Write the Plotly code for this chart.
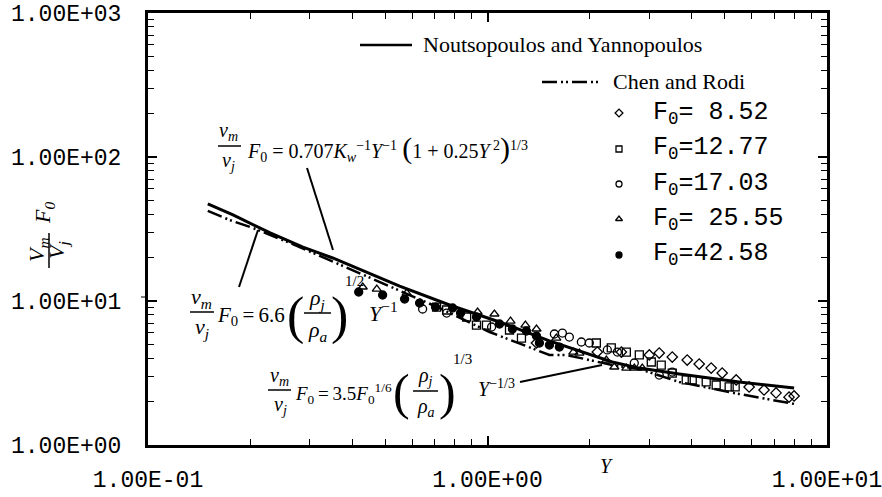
import plotly.graph_objects as go

# ---------------- data ----------------
ny_x = [0.150, 0.178, 0.229, 0.286, 0.350, 0.551, 0.773, 1.085, 1.522, 2.331, 2.800, 3.671, 5.51, 8.0]
ny_y = [47.2, 39.6, 29.7, 23.7, 19.9, 12.7, 9.38, 7.15, 5.28, 3.77, 3.42, 3.11, 2.74, 2.49]

cr_x = [0.150, 0.174, 0.204, 0.262, 0.336, 0.481, 0.722, 1.014, 1.522, 1.708, 1.865, 2.331, 2.800, 3.671, 5.51, 8.0]
cr_y = [42.2, 36.5, 32.1, 25.3, 19.6, 13.5, 8.94, 6.09, 4.22, 4.22, 4.02, 3.59, 3.37, 2.74, 2.26, 1.93]

f852_x = [1.394, 2.106, 2.479, 2.996, 3.205, 3.501, 3.875, 4.203, 4.559, 4.912, 5.401, 5.897, 6.526, 7.079, 7.73, 8.0]
f852_y = [5.11, 4.42, 4.42, 4.22, 4.35, 4.08, 3.89, 3.65, 3.42, 3.16, 2.83, 2.53, 2.41, 2.30, 2.15, 2.19]

f1277_x = [0.708, 0.758, 0.868, 0.928, 0.993, 1.161, 1.259, 2.092, 2.315, 2.564, 2.80, 3.037, 3.249, 3.501,
           3.849, 4.009, 4.408, 4.716, 5.150, 5.364]
f1277_y = [9.08, 8.66, 7.74, 6.81, 6.81, 6.29, 5.53, 5.11, 4.72, 4.42, 4.22, 3.77, 3.59, 3.16,
           2.83, 2.83, 2.74, 2.61, 2.53, 2.53]

f1703_x = [0.644, 0.758, 1.028, 1.574, 1.662, 1.742, 1.890, 1.995, 2.254, 2.413, 2.706, 3.205, 3.501]
f1703_y = [8.80, 8.25, 6.60, 5.90, 5.99, 5.62, 5.19, 5.11, 4.57, 4.42, 3.71, 3.06, 3.21]

f2555_x = [0.429, 0.472, 0.578, 0.935, 1.048, 1.169, 1.293, 1.394, 1.595, 1.790, 1.865, 2.239, 2.363,
           2.564, 2.706, 2.857]
f2555_y = [12.51, 12.11, 11.36, 8.39, 8.12, 7.26, 6.81, 6.39, 5.53, 4.42, 4.35, 3.89, 3.48,
           3.42, 3.42, 3.42]

f4258_x = [0.4175, 0.491, 0.570, 0.631, 0.703, 0.789, 0.833, 0.928, 1.085, 1.184, 1.302, 1.394, 1.422,
           1.522, 1.628]
f4258_y = [11.55, 11.01, 10.32, 9.68, 9.08, 8.94, 8.25, 7.74, 6.92, 6.39, 6.19, 5.71, 5.11, 4.95, 4.79]

x_tickvals = [0.1, 1, 10]
x_ticktext = ["1.00E-01", "1.00E+00", "1.00E+01"]
y_tickvals = [1, 10, 100, 1000]
y_ticktext = ["1.00E+00", "1.00E+01", "1.00E+02", "1.00E+03"]

legend_labels = ["F<sub>0</sub>= 8.52", "F<sub>0</sub>=12.77", "F<sub>0</sub>=17.03",
                 "F<sub>0</sub>= 25.55", "F<sub>0</sub>=42.58"]

# ---------------- layout helpers ----------------
W, H = 882, 497
L, R, T, B = 148, 827, 13, 445


def px(x):
    return (x - L) / (R - L)


def py(y):
    return (B - y) / (B - T)


SERIF = "Liberation Serif"
MONO = "Liberation Mono"
DASH = "15px,4px,2px,3px,2px,4px"
TS = "\u2009"  # thin space

fig = go.Figure()

fig.add_trace(go.Scatter(x=ny_x, y=ny_y, mode="lines", line=dict(color="black", width=3),
                         showlegend=False))
fig.add_trace(go.Scatter(x=cr_x, y=cr_y, mode="lines", line=dict(color="black", width=2.5, dash=DASH),
                         showlegend=False))

mk_line = dict(color="black", width=1.3)
series = [
    (f852_x, f852_y, "diamond-open", 8),
    (f1277_x, f1277_y, "square-open", 8),
    (f1703_x, f1703_y, "circle-open", 8),
    (f2555_x, f2555_y, "triangle-up-open", 8),
    (f4258_x, f4258_y, "circle", 8),
]
for sx, sy, sym, sz in series:
    fig.add_trace(go.Scatter(x=sx, y=sy, mode="markers",
                             marker=dict(symbol=sym, size=sz, color="black", line=mk_line),
                             showlegend=False))

# legend symbols on an overlay axis in plot-area fractions
leg_rows = [113, 149, 184, 219, 255]
fig.add_trace(go.Scatter(
    x=[px(619)] * 5, y=[py(r) for r in leg_rows], mode="markers", xaxis="x2", yaxis="y2",
    marker=dict(symbol=[s[2] for s in series], size=6, color="black", line=mk_line),
    showlegend=False, hoverinfo="skip"))

minor_x = [m * 10 ** k for k in (-1, 0) for m in range(2, 10)]
minor_y = [m * 10 ** k for k in (0, 1, 2) for m in range(2, 10)]

axis_common = dict(showline=True, linewidth=3, linecolor="black", mirror="allticks",
                   ticks="inside", ticklen=9, tickwidth=1.5, tickcolor="black",
                   showgrid=False, zeroline=False, automargin=False, ticklabeloverflow="allow",
                   tickfont=dict(family=MONO, size=23, color="black"))

fig.update_layout(
    width=W, height=H,
    margin=dict(l=L, r=W - R, t=T, b=H - B),
    paper_bgcolor="white", plot_bgcolor="white",
    xaxis=dict(type="log", range=[-1, 1], tickvals=x_tickvals, ticktext=x_ticktext,
               minor=dict(ticks="inside", ticklen=6, tickwidth=1.2, tickcolor="black", tickvals=minor_x),
               ticklabelstandoff=11, **axis_common),
    yaxis=dict(type="log", range=[0, 3], tickvals=y_tickvals, ticktext=y_ticktext,
               minor=dict(ticks="inside", ticklen=6, tickwidth=1.2, tickcolor="black", tickvals=minor_y),
               ticklabelstandoff=19, **axis_common),
    xaxis2=dict(overlaying="x", range=[0, 1], visible=False, automargin=False),
    yaxis2=dict(overlaying="y", range=[0, 1], visible=False, automargin=False),
    showlegend=False,
)

ann = []
shapes = []


def text(x, y, s, size=20, family=SERIF, xa="center", ya="middle", angle=0):
    ann.append(dict(x=px(x), y=py(y), xref="paper", yref="paper", text=s, showarrow=False,
                    xanchor=xa, yanchor=ya, textangle=angle,
                    font=dict(family=family, size=size, color="black")))


def seg(x0, y0, x1, y1, w=1.5, dash=None):
    d = dict(type="line", xref="paper", yref="paper", x0=px(x0), y0=py(y0), x1=px(x1), y1=py(y1),
             line=dict(color="black", width=w))
    if dash:
        d["line"]["dash"] = dash
    shapes.append(d)


# legend
seg(360, 45, 412, 45, w=2.5)
text(421, 44, "Noutsopoulos and Yannopoulos", size=22, xa="left")
seg(542, 82, 602, 82, w=2.5, dash=DASH)
text(611, 81, "Chen and Rodi", size=22, xa="left")
for r, lab in zip(leg_rows, legend_labels):
    text(651, r, lab, size=25, family=MONO, xa="left")

# axis titles
text(606, 466, "<i>Y</i>", size=20)
text(38, 250, "<i>V<sub>m</sub></i>", size=22, angle=-90)
text(58, 250, "<i>V<sub>j</sub></i>", size=22, angle=-90)
seg(49, 233, 49, 268, w=1.5)
text(44, 213, "<i>F<sub>0</sub></i>", size=22, angle=-90)
seg(141, 297, 146, 297, w=1)

# formula 1
text(228, 131, "<i>v<sub>m</sub></i>", size=20)
seg(218, 146, 241, 146)
text(228, 161, "<i>v<sub>j</sub></i>", size=20)
text(245, 148, "<i>F</i><sub>0</sub> = 0.707<i>K</i><sub><i>w</i></sub><sup>−1</sup><i>Y</i><sup>−1</sup>"
     " <span style='font-size:30px'>(</span>1 + 0.25<i>Y</i><sup> 2</sup>"
     "<span style='font-size:30px'>)</span><sup>1/3</sup>", size=20, xa="left")
seg(307, 168, 333, 250, w=2)

# formula 2
text(201, 298, "<i>v<sub>m</sub></i>", size=22)
seg(190, 312, 214, 312)
text(202, 328, "<i>v<sub>j</sub></i>", size=22)
text(215, 316, "<i>F</i><sub>0</sub>" + TS + "=" + TS + "6.6", size=21, xa="left")
text(295, 316, "(", size=52)
text(317, 299, "<i>ρ<sub>j</sub></i>", size=22)
seg(304, 313, 331, 313)
text(318, 331, "<i>ρ<sub>a</sub></i>", size=22)
text(339, 316, ")", size=52)
text(354, 281, "1/2", size=15)
text(367, 312, "<i>Y</i><sup>−1</sup>", size=22, xa="left")
seg(258, 230, 239, 287, w=2)

# formula 3
text(279, 376, "<i>v<sub>m</sub></i>", size=20)
seg(268, 390, 291, 390)
text(280, 405, "<i>v<sub>j</sub></i>", size=20)
text(293, 393, "<i>F</i><sub>0</sub>" + TS + "=" + TS + "3.5<i>F</i><sub>0</sub><sup>1/6</sup>",
     size=19, xa="left")
text(401, 392, "(", size=50)
text(425, 376, "<i>ρ<sub>j</sub></i>", size=20)
seg(413, 391, 438, 391)
text(426, 407, "<i>ρ<sub>a</sub></i>", size=20)
text(447, 392, ")", size=50)
text(462, 359, "1/3", size=15)
text(476, 388, "<i>Y</i><sup>−1/3</sup>", size=20, xa="left")
seg(520, 382, 602, 365, w=2)

fig.update_layout(annotations=ann, shapes=shapes)
fig.write_html("out.html")
